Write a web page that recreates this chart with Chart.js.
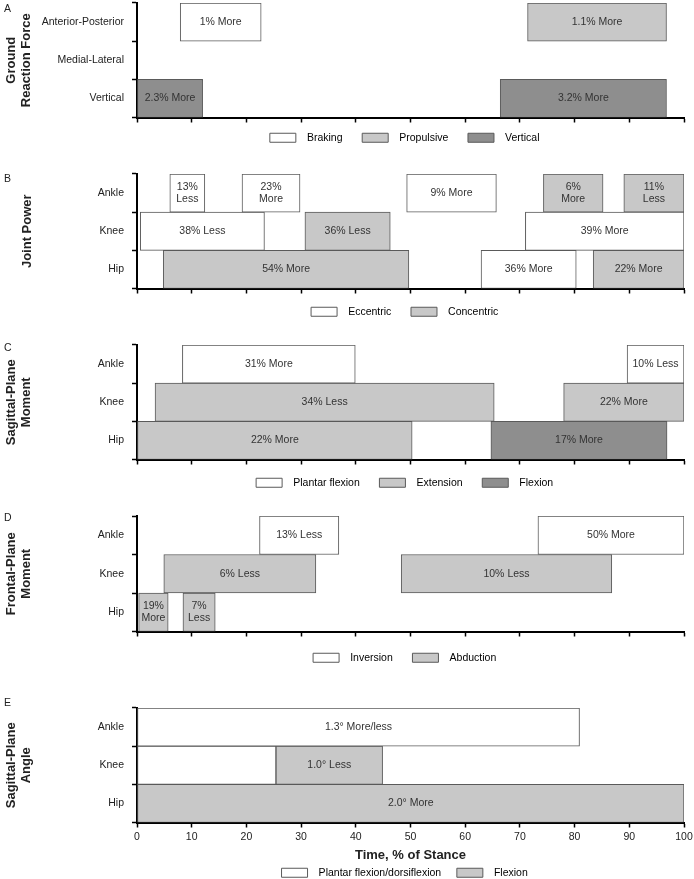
<!DOCTYPE html>
<html>
<head>
<meta charset="utf-8">
<script src="https://cdn.jsdelivr.net/npm/chart.js@4.4.0/dist/chart.umd.min.js"></script>
<style>
  html, body { margin: 0; padding: 0; background: #fff; overflow: hidden; }
  #page { position: relative; width: 694px; height: 879px; }
  .panel { position: absolute; left: 0; }
  .tag { position: absolute; left: 4px; font: 10.5px 'Liberation Sans', Arial, sans-serif; color: #222; }
</style>
</head>
<body>
<div id="page">
  <div class="panel" style="top:0px"><canvas id="chart-a" width="694" height="153"></canvas></div>
  <div class="panel" style="top:170px"><canvas id="chart-b" width="694" height="157"></canvas></div>
  <div class="panel" style="top:341px"><canvas id="chart-c" width="694" height="157"></canvas></div>
  <div class="panel" style="top:512px"><canvas id="chart-d" width="694" height="161"></canvas></div>
  <div class="panel" style="top:704px"><canvas id="chart-e" width="694" height="184"></canvas></div>
  <div class="tag" style="top:2px">A</div>
  <div class="tag" style="top:172px">B</div>
  <div class="tag" style="top:341px">C</div>
  <div class="tag" style="top:511px">D</div>
  <div class="tag" style="top:696px">E</div>
</div>
<script>
// ─── 数据：每段 = [行号, 起点 %, 终点 %] ─────────────────
const forceCats = ['Anterior-Posterior', 'Medial-Lateral', 'Vertical'];
const jointCats = ['Ankle', 'Knee', 'Hip'];

// A  Ground reaction force
const aBraking        = [[0, 7.9, 22.7]];
const aBrakingText    = ['1% More'];
const aPropulsive     = [[0, 71.4, 96.8]];
const aPropulsiveText = ['1.1% More'];
const aVertical       = [[2, 0, 12.0], [2, 66.4, 96.8]];
const aVerticalText   = ['2.3% More', '3.2% More'];

// B  Joint power
const bEccentric      = [[0, 6.0, 12.4], [0, 19.2, 29.8], [0, 49.3, 65.7], [1, 0.6, 23.3], [1, 71.0, 100], [2, 62.9, 80.3]];
const bEccentricText  = ['13%\nLess', '23%\nMore', '9% More', '38% Less', '39% More', '36% More'];
const bConcentric     = [[0, 74.3, 85.2], [0, 89.0, 100], [1, 30.7, 46.3], [2, 4.8, 49.7], [2, 83.4, 100]];
const bConcentricText = ['6%\nMore', '11%\nLess', '36% Less', '54% More', '22% More'];

// C  Sagittal-plane moment
const cPlantar        = [[0, 8.3, 39.9], [0, 89.6, 100]];
const cPlantarText    = ['31% More', '10% Less'];
const cExtension      = [[1, 3.3, 65.3], [1, 78.0, 100], [2, 0, 50.3]];
const cExtensionText  = ['34% Less', '22% More', '22% More'];
const cFlexion        = [[2, 64.7, 96.9]];
const cFlexionText    = ['17% More'];

// D  Frontal-plane moment
const dInversion      = [[0, 22.4, 36.9], [0, 73.3, 100]];
const dInversionText  = ['13% Less', '50% More'];
const dAbduction      = [[1, 4.9, 32.7], [1, 48.3, 86.8], [2, 0.3, 5.7], [2, 8.4, 14.3]];
const dAbductionText  = ['6% Less', '10% Less', '19%\nMore', '7%\nLess'];

// E  Sagittal-plane angle
const ePlantarDorsi     = [[0, 0, 80.9], [1, 0, 25.4]];
const ePlantarDorsiText = ['1.3° More/less', ''];
const eFlexion          = [[1, 25.4, 44.9], [2, 0, 100]];
const eFlexionText      = ['1.0° Less', '2.0° More'];

const xTicks = [0, 10, 20, 30, 40, 50, 60, 70, 80, 90, 100];

// ─── 样式 ───────────────────────────────────────────────
const WHITE = '#ffffff', LIGHT = '#c8c8c8', DARK = '#8e8e8e';
const EDGE = '#5a5a5a', INK = '#222222';
const FONT = "'Liberation Sans', Arial, Helvetica, sans-serif";
Chart.defaults.font.family = FONT;
Chart.defaults.color = INK;

// 条内文字
const barTextPlugin = {
  id: 'barText',
  afterDatasetsDraw(chart) {
    const ctx = chart.ctx;
    ctx.save();
    ctx.font = `10.5px ${FONT}`;
    ctx.fillStyle = '#333';
    ctx.textAlign = 'center';
    ctx.textBaseline = 'middle';
    chart.data.datasets.forEach((ds, i) => {
      if (!ds.barText) return;
      chart.getDatasetMeta(i).data.forEach((bar, j) => {
        if (!ds.data[j]) return;
        const lines = ds.barText.split('\n');
        const cx = (bar.x + bar.base) / 2;
        lines.forEach((ln, k) => {
          ctx.fillText(ln, cx, bar.y + (k - (lines.length - 1) / 2) * 11.5);
        });
      });
    });
    ctx.restore();
  }
};

function segDatasets(cats, segs, texts, fill) {
  return segs.map(([row, lo, hi], k) => ({
    data: cats.map((_, r) => (r === row ? [lo, hi] : null)),
    barText: texts[k],
    backgroundColor: fill,
    borderColor: EDGE,
    borderWidth: 1,
    borderSkipped: false,
    barPercentage: 1,
    categoryPercentage: 1,
  }));
}

function makePanel(id, cfg) {
  const datasets = [];
  cfg.series.forEach(s => datasets.push(...segDatasets(cfg.cats, s.segs, s.texts, s.fill)));
  const legendItems = cfg.series.map(s => ({
    text: '  ' + s.name + '    ',
    fillStyle: s.fill,
    strokeStyle: EDGE,
    lineWidth: 1,
    hidden: false,
  }));

  new Chart(document.getElementById(id), {
    type: 'bar',
    data: { labels: cfg.cats, datasets },
    plugins: [barTextPlugin],
    options: {
      indexAxis: 'y',
      responsive: false,
      animation: false,
      events: [],
      layout: { padding: { top: cfg.padTop, right: 10, left: 0, bottom: 0 } },
      scales: {
        y: {
          stacked: true,
          border: { display: true, width: 2, color: '#000' },
          grid: { drawOnChartArea: false, tickLength: 5, tickColor: '#000', tickWidth: 1.5, offset: true },
          ticks: { color: INK, font: { size: 10.5 }, padding: 8 },
          title: {
            display: true, text: cfg.title, color: INK,
            font: { size: 13, weight: 'bold', lineHeight: 1.15 },
            padding: { top: cfg.titlePad, bottom: 0 },
          },
          afterFit(s) { s.width = 137; s.paddingTop = 0; s.paddingBottom = 0; },
        },
        x: {
          min: 0, max: 100,
          border: { display: true, width: 2, color: '#000' },
          grid: { drawOnChartArea: false, tickLength: 5, tickColor: '#000', tickWidth: 1.5 },
          afterBuildTicks(s) { s.ticks = xTicks.map(v => ({ value: v })); },
          ticks: {
            display: !!cfg.xTitle, color: INK, font: { size: 10.5 },
            padding: 3, maxRotation: 0, autoSkip: false,
          },
          title: {
            display: !!cfg.xTitle, text: cfg.xTitle, color: INK,
            font: { size: 13, weight: 'bold', lineHeight: 1.2 },
            padding: 0,
          },
          afterFit(s) { s.height = cfg.xh; s.paddingLeft = 0; s.paddingRight = 0; },
        },
      },
      plugins: {
        tooltip: { enabled: false },
        legend: {
          position: 'bottom', fullSize: false, align: 'center',
          labels: {
            boxWidth: 26, boxHeight: 9, padding: cfg.legendPad, color: INK,
            font: { size: 10.5 },
            generateLabels: () => legendItems,
          },
        },
      },
    },
  });
}

makePanel('chart-a', {
  cats: forceCats, title: ['Ground', 'Reaction Force'], titlePad: 4,
  padTop: 3, xh: 7, legendPad: 8,
  series: [
    { name: 'Braking',    segs: aBraking,    texts: aBrakingText,    fill: WHITE },
    { name: 'Propulsive', segs: aPropulsive, texts: aPropulsiveText, fill: LIGHT },
    { name: 'Vertical',   segs: aVertical,   texts: aVerticalText,   fill: DARK },
  ],
});

makePanel('chart-b', {
  cats: jointCats, title: 'Joint Power', titlePad: 19.5,
  padTop: 4, xh: 10, legendPad: 8,
  series: [
    { name: 'Eccentric',  segs: bEccentric,  texts: bEccentricText,  fill: WHITE },
    { name: 'Concentric', segs: bConcentric, texts: bConcentricText, fill: LIGHT },
  ],
});

makePanel('chart-c', {
  cats: jointCats, title: ['Sagittal-Plane', 'Moment'], titlePad: 4,
  padTop: 4, xh: 10, legendPad: 8,
  series: [
    { name: 'Plantar flexion', segs: cPlantar,   texts: cPlantarText,   fill: WHITE },
    { name: 'Extension',       segs: cExtension, texts: cExtensionText, fill: LIGHT },
    { name: 'Flexion',         segs: cFlexion,   texts: cFlexionText,   fill: DARK },
  ],
});

makePanel('chart-d', {
  cats: jointCats, title: ['Frontal-Plane', 'Moment'], titlePad: 4,
  padTop: 4, xh: 13, legendPad: 8,
  series: [
    { name: 'Inversion', segs: dInversion, texts: dInversionText, fill: WHITE },
    { name: 'Abduction', segs: dAbduction, texts: dAbductionText, fill: LIGHT },
  ],
});

makePanel('chart-e', {
  cats: jointCats, title: ['Sagittal-Plane', 'Angle'], titlePad: 4,
  padTop: 4, xh: 41, legendPad: 4, xTitle: 'Time, % of Stance',
  series: [
    { name: 'Plantar flexion/dorsiflexion', segs: ePlantarDorsi, texts: ePlantarDorsiText, fill: WHITE },
    { name: 'Flexion',                      segs: eFlexion,      texts: eFlexionText,      fill: LIGHT },
  ],
});
</script>
</body>
</html>
